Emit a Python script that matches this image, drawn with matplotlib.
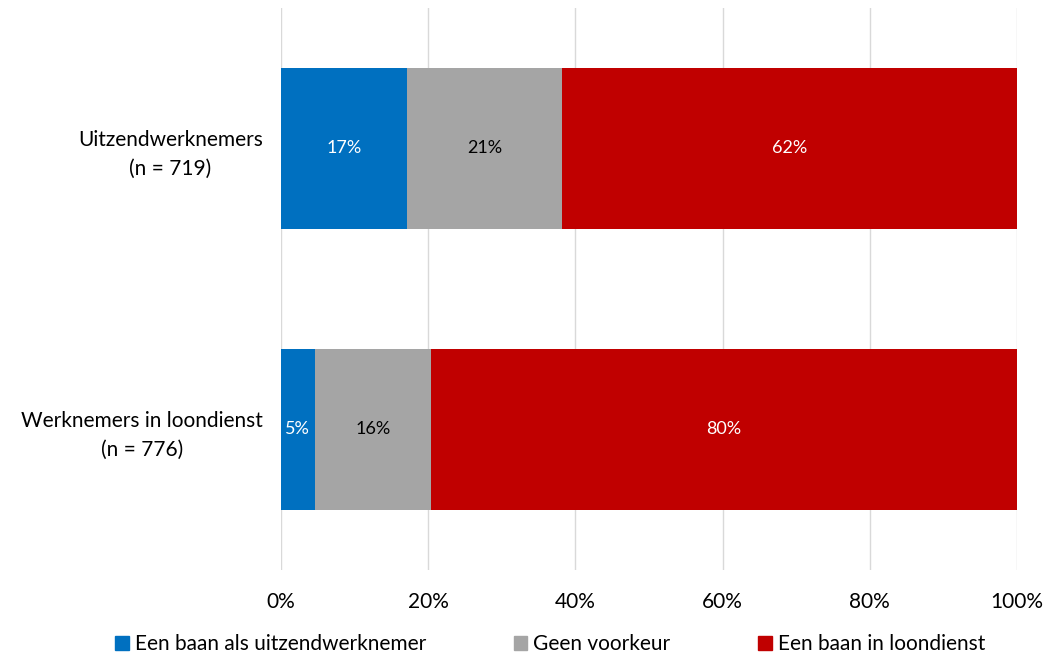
import numpy as np
import matplotlib.pyplot as plt
from matplotlib.patches import Patch

plt.rcParams['font.family'] = ['Lato', 'DejaVu Sans']

groups = ['Uitzendwerknemers\n(n = 719)', 'Werknemers in loondienst\n(n = 776)']
series = ['Een baan als uitzendwerknemer', 'Geen voorkeur', 'Een baan in loondienst']
uitzend = [17.1, 21.1, 61.8]
loondienst = [4.6, 15.8, 79.6]
labels = [[17, 21, 62], [5, 16, 80]]
colors = ['#0070C0', '#A5A5A5', '#C00000']
text_colors = ['white', 'black', 'white']

data = np.array([uitzend, loondienst])

fig = plt.figure(figsize=(10.48, 6.6), dpi=100)
ax = fig.add_axes([0.2681, 0.1364, 0.7023, 0.8515])

y = np.arange(len(groups))
left = np.zeros(len(groups))
for j in range(len(series)):
    ax.barh(y, data[:, j], left=left, height=0.573, color=colors[j], zorder=2)
    for i in range(len(groups)):
        ax.text(left[i] + data[i, j] / 2, y[i], '%d%%' % labels[i][j],
                ha='center', va='center', color=text_colors[j], fontsize=13)
    left += data[:, j]

ax.set_xlim(0, 100)
ax.set_ylim(1.5, -0.5)
ax.set_xticks(np.arange(0, 101, 20))
ax.set_xticklabels(['%d%%' % v for v in range(0, 101, 20)], fontsize=15)
ax.set_yticks(y)
ax.set_yticklabels(groups, fontsize=15, ha='right', multialignment='center', linespacing=1.55)
ax.tick_params(axis='y', length=0, pad=13)
ax.tick_params(axis='x', length=0, pad=16)
ax.grid(axis='x', color='#D9D9D9', linewidth=1, zorder=0)
for s in ax.spines.values():
    s.set_visible(False)

handles = [Patch(color=c) for c in colors]
fig.legend(handles, series, loc='lower center', bbox_to_anchor=(0.525, -0.02), ncol=3,
           frameon=False, fontsize=15, handlelength=0.65, handleheight=0.65,
           handletextpad=0.3, columnspacing=4.2)

fig.savefig('out.png', dpi=100)
